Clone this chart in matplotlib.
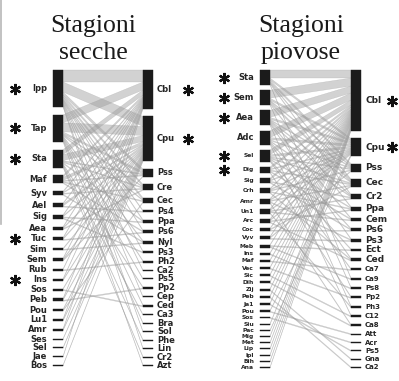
import matplotlib
matplotlib.use("Agg")
import matplotlib.pyplot as plt
from matplotlib.patches import Polygon, Rectangle


# dry season: flower visitors (left) and plants (right)
dry_visitors = ["Ipp", "Tap", "Sta", "Maf", "Syv", "Ael", "Sig", "Aea", "Tuc", "Sim", "Sem",
                "Rub", "Ins", "Sos", "Peb", "Pou", "Lu1", "Amr", "Ses", "Sel", "Jae", "Bos"]
dry_plants = ["Cbl", "Cpu", "Pss", "Cre", "Cec", "Ps4", "Ppa", "Ps6", "Nyl", "Ps3", "Ph2", "Ca2",
              "Ps5", "Pp2", "Cep", "Ced", "Ca3", "Bra", "Sol", "Phe", "Lin", "Cr2", "Azt"]
dry_links = [
    ("Ipp", "Cbl", 12), ("Ipp", "Cpu", 10), ("Ipp", "Pss", 3), ("Ipp", "Cre", 2), ("Ipp", "Cec", 2),
    ("Ipp", "Ps4", 1), ("Ipp", "Ppa", 1), ("Ipp", "Ps6", 1), ("Ipp", "Ps3", 1), ("Ipp", "Ca2", 1),
    ("Ipp", "Cep", 1), ("Ipp", "Sol", 1), ("Ipp", "Lin", 1),
    ("Tap", "Cbl", 8), ("Tap", "Cpu", 9), ("Tap", "Pss", 2), ("Tap", "Cre", 1), ("Tap", "Cec", 1),
    ("Tap", "Nyl", 1), ("Tap", "Ph2", 1), ("Tap", "Ps5", 1), ("Tap", "Ced", 1), ("Tap", "Bra", 1),
    ("Tap", "Azt", 1),
    ("Sta", "Cbl", 5), ("Sta", "Cpu", 6), ("Sta", "Pss", 1), ("Sta", "Cre", 1), ("Sta", "Ppa", 1),
    ("Sta", "Pp2", 1), ("Sta", "Ca3", 1), ("Sta", "Phe", 1), ("Sta", "Cr2", 1),
    ("Maf", "Cbl", 2), ("Maf", "Cpu", 3), ("Maf", "Pss", 1), ("Maf", "Cec", 1), ("Maf", "Ps6", 1),
    ("Syv", "Cbl", 1), ("Syv", "Cpu", 1), ("Syv", "Cre", 1), ("Syv", "Nyl", 1),
    ("Ael", "Cbl", 1), ("Ael", "Cpu", 2), ("Ael", "Ps4", 1),
    ("Sig", "Cbl", 1), ("Sig", "Cpu", 1), ("Sig", "Ppa", 1), ("Sig", "Ps3", 1),
    ("Aea", "Cbl", 1), ("Aea", "Cpu", 1), ("Aea", "Cre", 1),
    ("Tuc", "Cbl", 1), ("Tuc", "Cpu", 1), ("Tuc", "Ps6", 1),
    ("Sim", "Cpu", 1), ("Sim", "Nyl", 1),
    ("Sem", "Cbl", 1), ("Sem", "Cpu", 1), ("Sem", "Pss", 1),
    ("Rub", "Cbl", 1), ("Rub", "Ph2", 1),
    ("Ins", "Cbl", 1), ("Ins", "Cpu", 1),
    ("Sos", "Cpu", 1), ("Sos", "Ced", 1),
    ("Peb", "Cbl", 1), ("Peb", "Cpu", 1), ("Peb", "Pp2", 1),
    ("Pou", "Cpu", 1), ("Pou", "Cec", 1),
    ("Lu1", "Cbl", 1), ("Lu1", "Cpu", 1),
    ("Amr", "Cbl", 1), ("Amr", "Cpu", 1),
    ("Ses", "Cpu", 1), ("Sel", "Cpu", 1), ("Jae", "Cbl", 1), ("Bos", "Cpu", 1),
]
dry_starred = ["Ipp", "Tap", "Sta", "Tuc", "Ins", "Cbl", "Cpu"]

# rainy season
wet_visitors = ["Sta", "Sem", "Aea", "Adc", "Sel", "Dig", "Sig", "Crh", "Amr", "Un1", "Arc",
                "Coc", "Vyv", "Meb", "Ins", "Maf", "Vec", "Sic", "Dih", "Zij", "Peb", "Ja1",
                "Pou", "Sos", "Siu", "Pac", "Mig", "Met", "Lip", "Ipl", "Bih", "Ana"]
wet_plants = ["Cbl", "Cpu", "Pss", "Cec", "Cr2", "Ppa", "Cem", "Ps6", "Ps3", "Ect", "Ced", "Ca7",
              "Ca9", "Ps8", "Pp2", "Ph3", "C12", "Ca8", "Att", "Acr", "Ps5", "Gna", "Ca2"]
wet_links = [
    ("Sta", "Cbl", 8), ("Sta", "Cpu", 2), ("Sta", "Pss", 2), ("Sta", "Cec", 1), ("Sta", "Cr2", 1),
    ("Sta", "Ca9", 1),
    ("Sem", "Cbl", 8), ("Sem", "Cpu", 2), ("Sem", "Pss", 1), ("Sem", "Cec", 2), ("Sem", "Ppa", 1),
    ("Sem", "Ps8", 1),
    ("Aea", "Cbl", 7), ("Aea", "Cpu", 2), ("Aea", "Pss", 1), ("Aea", "Cec", 1), ("Aea", "Cr2", 1),
    ("Aea", "Cem", 1), ("Aea", "Ps3", 1), ("Aea", "Ph3", 1),
    ("Adc", "Cbl", 7), ("Adc", "Cpu", 2), ("Adc", "Pss", 1), ("Adc", "Cr2", 1), ("Adc", "Ps6", 1),
    ("Adc", "Ced", 1), ("Adc", "C12", 1),
    ("Sel", "Cbl", 5), ("Sel", "Cpu", 2), ("Sel", "Pss", 1), ("Sel", "Cec", 1), ("Sel", "Ppa", 1),
    ("Sel", "Ect", 1), ("Sel", "Ca7", 1),
    ("Dig", "Cbl", 2), ("Dig", "Cpu", 1), ("Dig", "Cec", 1), ("Dig", "Cem", 1), ("Dig", "Pp2", 1),
    ("Sig", "Cbl", 2), ("Sig", "Cpu", 1), ("Sig", "Cr2", 1), ("Sig", "Ps6", 1),
    ("Crh", "Cbl", 1), ("Crh", "Cpu", 1), ("Crh", "Pss", 1), ("Crh", "Ppa", 1), ("Crh", "Ced", 1),
    ("Amr", "Cbl", 1), ("Amr", "Cpu", 1), ("Amr", "Cec", 1), ("Amr", "Ps3", 1), ("Amr", "Ca8", 1),
    ("Un1", "Cbl", 1), ("Un1", "Cpu", 1), ("Un1", "Cr2", 1), ("Un1", "Cem", 1), ("Un1", "Ph3", 1),
    ("Arc", "Cbl", 1), ("Arc", "Cpu", 1), ("Arc", "Ppa", 1), ("Arc", "Ced", 1),
    ("Coc", "Cbl", 1), ("Coc", "Cec", 1), ("Coc", "Ps6", 1),
    ("Vyv", "Cbl", 1), ("Vyv", "Pss", 1), ("Vyv", "Ps3", 1),
    ("Meb", "Cbl", 1), ("Meb", "Ect", 1), ("Meb", "Ca9", 1),
    ("Ins", "Cbl", 1), ("Ins", "Ps8", 1),
    ("Maf", "Cbl", 1), ("Maf", "Ca7", 1),
    ("Vec", "Cbl", 1), ("Vec", "Pp2", 1),
    ("Sic", "Cbl", 1), ("Sic", "C12", 1),
    ("Dih", "Cbl", 1), ("Dih", "Ca8", 1),
    ("Zij", "Cbl", 1), ("Zij", "Gna", 1),
    ("Peb", "Cbl", 1), ("Peb", "Ca2", 1),
    ("Ja1", "Cbl", 1), ("Ja1", "Ps5", 1),
    ("Pou", "Cpu", 1), ("Pou", "Att", 1),
    ("Sos", "Acr", 1), ("Siu", "Cbl", 1), ("Pac", "Cpu", 1), ("Mig", "Cbl", 1),
    ("Met", "Cbl", 1), ("Lip", "Cbl", 1), ("Ipl", "Cbl", 1), ("Bih", "Cbl", 1), ("Ana", "Cbl", 1),
]
wet_starred = ["Sta", "Sem", "Aea", "Sel", "Dig", "Cbl", "Cpu"]

BAR = "#1b1b1b"
LINK = "#9c9c9c"
TEXT = "#262626"
BW = 10


def stack(names, totals, top, bottom):
    # bars sized by interaction totals, the rest of the column shared out as gaps
    sizes = [totals[n] for n in names]
    gap = (bottom - top - sum(sizes)) / (len(names) - 1)
    pos, y = {}, top
    for n, s in zip(names, sizes):
        pos[n] = (y, y + s)
        y += s + gap
    return pos


def draw_web(ax, left, right, links, starred, xl, xr, top, bottom,
             lfont, rfont, star_l, star_r):
    ltot = {n: 0 for n in left}
    rtot = {n: 0 for n in right}
    for a, b, w in links:
        ltot[a] += w
        rtot[b] += w
    lpos = stack(left, ltot, top, bottom)
    rpos = stack(right, rtot, top, bottom)

    lcur = {n: lpos[n][0] for n in left}
    rcur = {n: rpos[n][0] for n in right}
    lseg, rseg = {}, {}
    for a, b, w in sorted(links, key=lambda t: (left.index(t[0]), right.index(t[1]))):
        lseg[(a, b)] = (lcur[a], lcur[a] + w)
        lcur[a] += w
    for a, b, w in sorted(links, key=lambda t: (right.index(t[1]), left.index(t[0]))):
        rseg[(a, b)] = (rcur[b], rcur[b] + w)
        rcur[b] += w

    for a, b, w in links:
        y0, y1 = lseg[(a, b)]
        v0, v1 = rseg[(a, b)]
        ax.add_patch(Polygon([(xl + BW, y0), (xr, v0), (xr, v1), (xl + BW, y1)],
                             closed=True, fc=LINK, ec=LINK, lw=0.3, alpha=0.45, zorder=1))

    for i, n in enumerate(left):
        y0, y1 = lpos[n]
        ax.add_patch(Rectangle((xl, y0), BW, y1 - y0, fc=BAR, ec=BAR, lw=0.3, zorder=2))
        ym = (y0 + y1) / 2
        ax.text(xl - 6, ym, n, ha="right", va="center", fontsize=lfont(i),
                fontweight="bold", color=TEXT)
        if n in starred:
            ax.plot(star_l, ym, marker=(6, 2, 0), ms=8, mew=1.6, color="#111111")
    for i, n in enumerate(right):
        y0, y1 = rpos[n]
        ax.add_patch(Rectangle((xr, y0), BW, y1 - y0, fc=BAR, ec=BAR, lw=0.3, zorder=2))
        ym = (y0 + y1) / 2
        ax.text(xr + BW + 4, ym, n, ha="left", va="center", fontsize=rfont(i),
                fontweight="bold", color=TEXT)
        if n in starred:
            ax.plot(star_r, ym, marker=(6, 2, 0), ms=8, mew=1.6, color="#111111")


def main():
    fig = plt.figure(figsize=(3.99, 3.81), dpi=100)
    ax = fig.add_axes([0, 0, 1, 1])
    ax.set_xlim(0, 399)
    ax.set_ylim(381, 0)
    ax.axis("off")

    draw_web(ax, dry_visitors, dry_plants, dry_links, dry_starred, 53, 143, 70, 366,
             lambda i: 6, lambda i: 6, 15, 188)
    draw_web(ax, wet_visitors, wet_plants, wet_links, wet_starred, 260, 351, 70, 368,
             lambda i: 6 if i < 4 else 4.3, lambda i: 6.5 if i < 11 else 5, 224, 392)

    for x, words in [(93, ("Stagioni", "secche")), (301, ("Stagioni", "piovose"))]:
        ax.text(x, 32, words[0], ha="center", va="baseline", fontsize=18.5,
                family="Liberation Serif", color="#1a1a1a")
        ax.text(x, 59, words[1], ha="center", va="baseline", fontsize=18.5,
                family="Liberation Serif", color="#1a1a1a")

    ax.plot([1, 1], [0, 224], color="#b8b8b8", lw=1.2)

    fig.savefig("out.png", dpi=100)


if __name__ == "__main__":
    main()
